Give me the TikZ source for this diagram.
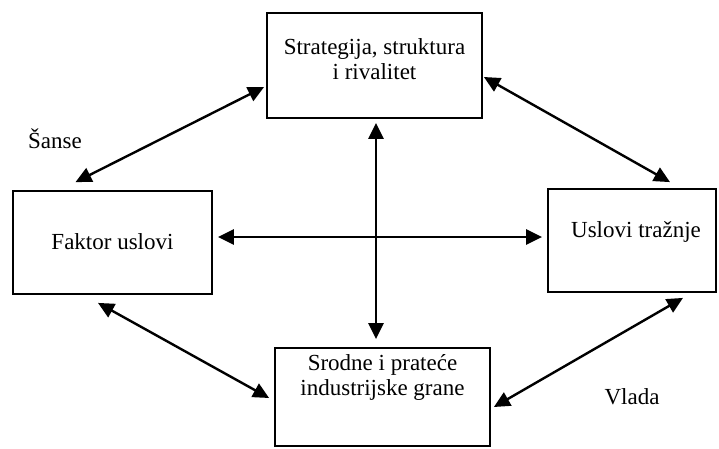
\documentclass[tikz,border=0pt]{standalone}
\usepackage{fontspec}
\setmainfont{Liberation Serif}
\usetikzlibrary{arrows.meta}

\tikzset{
  box/.style={draw, line width=1.8pt, inner sep=0pt},
  boxtext/.style={align=center, font=\fontsize{23}{25}\selectfont},
  link/.style={{Triangle[length=16pt,width=15pt]}-{Triangle[length=16pt,width=15pt]}, line width=2.4pt}
}

\begin{document}
\begin{tikzpicture}[x=1pt,y=-1pt]
        \useasboundingbox (0,0) rectangle (719,448);
        \node[box, minimum width=215pt, minimum height=105pt] (strat) at (374.5,65.5) {};
        \node[box, minimum width=199pt, minimum height=103pt] (faktor) at (112.5,242.5) {};
        \node[box, minimum width=168pt, minimum height=103pt] (trazn) at (632,240.5) {};
        \node[box, minimum width=215pt, minimum height=98pt] (srodne) at (382.5,397) {};
        \node[boxtext] (strattxt) at (374.5,59) {Strategija, struktura\\i rivalitet};
        \node[boxtext] (faktortxt) at (112.5,242) {Faktor uslovi};
        \node[boxtext] (trazntxt) at (636,232) {Uslovi tražnje};
        \node[boxtext] (srodnetxt) at (382.5,377) {Srodne i prateće\\industrijske grane};
        \node[boxtext] (sanse) at (55,139) {Šanse};
        \node[boxtext] (vlada) at (632,397) {Vlada};
        \draw[link] ([xshift=-37pt,yshift=8pt]faktor.north) -- ([xshift=-2pt,yshift=-21.5pt]strat.west);
        \draw[link] ([xshift=1pt,yshift=-11.5pt]strat.east) -- ([xshift=38pt,yshift=6pt]trazn.north);
        \draw[link] ([xshift=-14.5pt,yshift=-8pt]faktor.south) -- ([xshift=-5pt,yshift=-1pt]srodne.west);
        \draw[link] ([xshift=51pt,yshift=-5pt]trazn.south) -- ([xshift=3pt,yshift=-10pt]srodne.east);
        \draw[link] ([xshift=5pt,yshift=5.5pt]faktor.east) -- ([xshift=-5pt,yshift=3.5pt]trazn.west);
        \draw[link] ([xshift=1.5pt,yshift=-4pt]strat.south) -- ([xshift=-6.5pt,yshift=8pt]srodne.north);
    \end{tikzpicture}
\end{document}
